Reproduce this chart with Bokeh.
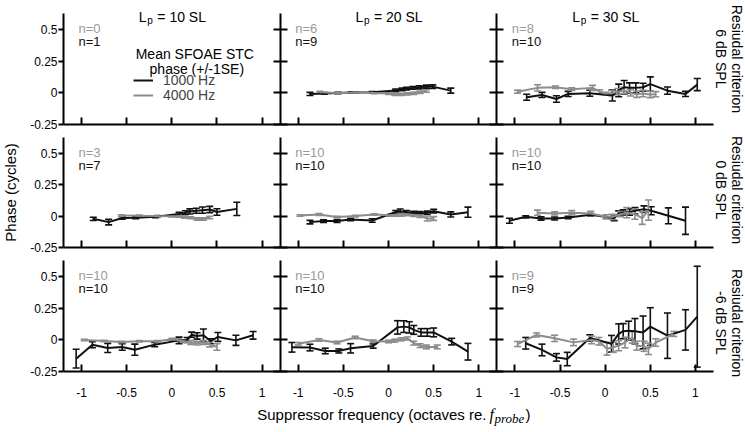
import numpy as np
from bokeh.plotting import figure
from bokeh.models import (Range1d, LinearAxis, FixedTicker, Whisker, TeeHead,
                          ColumnDataSource, Label, Legend, LegendItem)
from bokeh.embed import file_html
from bokeh.resources import INLINE

# ---------------- labels ----------------
lp_levels = [10, 20, 30]                       # columns: L_p (dB SL)
residual_criteria = ["6 dB SPL", "0 dB SPL", "-6 dB SPL"]   # rows
n_1000 = [[1, 9, 10], [7, 10, 10], [10, 10, 9]]
n_4000 = [[0, 6, 8], [3, 10, 10], [10, 10, 9]]
x_ticks = [-1, -0.5, 0, 0.5, 1]
x_tick_labels = ["-1", "-0.5", "0", "0.5", "1"]
y_ticks = [-0.25, 0, 0.25, 0.5]
y_tick_labels = ["-0.25", "0", "0.25", "0.5"]

# ---------------- data (suppressor freq, octaves re. f_probe ; phase, cycles) ----------------
# Residual criterion 6 dB SPL
x_1000_res6_lp10 = []
y_1000_res6_lp10 = []
se_1000_res6_lp10 = []
x_4000_res6_lp10 = []
y_4000_res6_lp10 = []
se_4000_res6_lp10 = []

x_1000_res6_lp20 = [-0.87, -0.71, -0.56, -0.41, -0.18, 0.08, 0.15, 0.2, 0.27, 0.34, 0.42, 0.49, 0.69]
y_1000_res6_lp20 = [-0.008, -0.004, 0.0, 0.003, 0.005, 0.02, 0.028, 0.034, 0.04, 0.044, 0.05, 0.05, 0.018]
se_1000_res6_lp20 = [0.012, 0.006, 0.006, 0.006, 0.006, 0.01, 0.01, 0.01, 0.01, 0.012, 0.012, 0.014, 0.02]
x_4000_res6_lp20 = [-0.76, -0.56, -0.36, -0.16, 0.0, 0.07, 0.14, 0.21, 0.28, 0.35, 0.42]
y_4000_res6_lp20 = [0.005, 0.0, 0.003, 0.0, -0.005, -0.013, -0.012, -0.008, -0.003, 0.005, 0.015]
se_4000_res6_lp20 = [0.008, 0.006, 0.006, 0.006, 0.008, 0.008, 0.008, 0.008, 0.01, 0.01, 0.01]

x_1000_res6_lp30 = [-0.87, -0.7, -0.54, -0.41, -0.17, 0.08, 0.15, 0.21, 0.27, 0.34, 0.42, 0.5, 0.69, 0.89, 1.02]
y_1000_res6_lp30 = [-0.034, -0.016, -0.048, -0.008, -0.003, -0.02, 0.02, 0.045, 0.04, 0.04, 0.045, 0.07, 0.018, -0.008, 0.066]
se_1000_res6_lp30 = [0.024, 0.02, 0.026, 0.02, 0.024, 0.044, 0.05, 0.053, 0.04, 0.04, 0.032, 0.057, 0.029, 0.021, 0.048]
x_4000_res6_lp30 = [-0.97, -0.75, -0.55, -0.37, -0.14, -0.06, 0.0, 0.07, 0.14, 0.21, 0.28, 0.35, 0.42, 0.5, 0.56]
y_4000_res6_lp30 = [0.01, 0.04, 0.045, 0.03, 0.04, 0.01, -0.005, 0.0, 0.01, 0.02, 0.0, -0.01, -0.005, -0.012, -0.01]
se_4000_res6_lp30 = [0.012, 0.025, 0.01, 0.01, 0.02, 0.015, 0.01, 0.02, 0.025, 0.025, 0.025, 0.025, 0.025, 0.025, 0.02]

# Residual criterion 0 dB SPL
x_1000_res0_lp10 = [-0.87, -0.7, -0.55, -0.4, -0.18, 0.08, 0.15, 0.2, 0.27, 0.34, 0.42, 0.5, 0.72]
y_1000_res0_lp10 = [-0.019, -0.045, -0.012, -0.01, -0.002, 0.02, 0.03, 0.04, 0.045, 0.05, 0.055, 0.035, 0.06]
se_1000_res0_lp10 = [0.013, 0.022, 0.01, 0.008, 0.008, 0.012, 0.015, 0.02, 0.02, 0.025, 0.025, 0.026, 0.053]
x_4000_res0_lp10 = [-0.56, -0.36, -0.16, 0.0, 0.07, 0.14, 0.21, 0.28, 0.35, 0.42]
y_4000_res0_lp10 = [0.008, 0.005, 0.003, 0.002, 0.0, -0.005, -0.01, -0.02, -0.02, -0.008]
se_4000_res0_lp10 = [0.006, 0.006, 0.006, 0.006, 0.006, 0.008, 0.008, 0.01, 0.01, 0.01]

x_1000_res0_lp20 = [-0.87, -0.72, -0.57, -0.42, -0.18, 0.08, 0.13, 0.2, 0.28, 0.35, 0.43, 0.5, 0.69, 0.88]
y_1000_res0_lp20 = [-0.045, -0.037, -0.037, -0.024, -0.032, 0.035, 0.042, 0.034, 0.029, 0.026, 0.03, 0.042, 0.016, 0.034]
se_1000_res0_lp20 = [0.014, 0.01, 0.01, 0.01, 0.014, 0.012, 0.017, 0.012, 0.012, 0.012, 0.012, 0.014, 0.02, 0.04]
x_4000_res0_lp20 = [-0.98, -0.77, -0.57, -0.37, -0.16, 0.02, 0.07, 0.14, 0.21, 0.28, 0.35, 0.43, 0.5]
y_4000_res0_lp20 = [0.008, 0.016, -0.005, 0.003, 0.016, 0.01, 0.01, 0.012, 0.015, 0.01, 0.005, -0.016, -0.016]
se_4000_res0_lp20 = [0.006, 0.008, 0.006, 0.006, 0.006, 0.008, 0.008, 0.01, 0.01, 0.01, 0.012, 0.02, 0.015]

x_1000_res0_lp30 = [-1.06, -0.88, -0.71, -0.56, -0.41, -0.16, 0.1, 0.15, 0.2, 0.27, 0.33, 0.43, 0.51, 0.7, 0.89]
y_1000_res0_lp30 = [-0.034, -0.003, -0.016, -0.016, -0.008, 0.013, -0.013, 0.024, 0.032, 0.035, 0.045, 0.058, 0.045, 0.005, -0.034]
se_1000_res0_lp30 = [0.02, 0.008, 0.013, 0.012, 0.01, 0.01, 0.02, 0.02, 0.02, 0.025, 0.026, 0.026, 0.032, 0.063, 0.108]
x_4000_res0_lp30 = [-0.75, -0.56, -0.37, -0.16, 0.01, 0.08, 0.17, 0.24, 0.33, 0.41, 0.48]
y_4000_res0_lp30 = [0.03, 0.024, 0.03, 0.024, -0.003, -0.003, 0.018, 0.03, 0.018, -0.013, 0.05]
se_4000_res0_lp30 = [0.02, 0.012, 0.016, 0.016, 0.016, 0.02, 0.02, 0.04, 0.04, 0.05, 0.08]

# Residual criterion -6 dB SPL
x_1000_resm6_lp10 = [-1.06, -0.88, -0.71, -0.55, -0.41, -0.19, 0.08, 0.17, 0.22, 0.28, 0.35, 0.43, 0.51, 0.71, 0.9]
y_1000_resm6_lp10 = [-0.148, -0.037, -0.063, -0.056, -0.077, -0.037, -0.003, 0.0, 0.042, 0.032, 0.037, -0.01, 0.024, -0.003, 0.037]
se_1000_resm6_lp10 = [0.074, 0.024, 0.036, 0.026, 0.044, 0.017, 0.026, 0.02, 0.02, 0.025, 0.05, 0.02, 0.035, 0.04, 0.03]
x_4000_resm6_lp10 = [-0.97, -0.75, -0.56, -0.36, -0.16, 0.0, 0.07, 0.14, 0.21, 0.28, 0.35, 0.42, 0.5]
y_4000_resm6_lp10 = [0.0, -0.008, -0.016, -0.01, -0.01, 0.005, 0.0, -0.01, -0.02, -0.025, -0.02, -0.035, -0.056]
se_4000_resm6_lp10 = [0.006, 0.006, 0.006, 0.006, 0.006, 0.008, 0.01, 0.01, 0.015, 0.015, 0.015, 0.02, 0.026]

x_1000_resm6_lp20 = [-1.07, -0.87, -0.7, -0.55, -0.42, -0.17, 0.1, 0.17, 0.23, 0.28, 0.36, 0.43, 0.5, 0.7, 0.88]
y_1000_resm6_lp20 = [-0.058, -0.06, -0.087, -0.087, -0.066, -0.048, 0.1, 0.106, 0.1, 0.08, 0.06, 0.06, 0.06, -0.013, -0.093]
se_1000_resm6_lp20 = [0.038, 0.026, 0.022, 0.016, 0.037, 0.017, 0.053, 0.046, 0.045, 0.035, 0.03, 0.03, 0.035, 0.026, 0.066]
x_4000_resm6_lp20 = [-1.0, -0.77, -0.57, -0.37, -0.17, 0.0, 0.07, 0.14, 0.21, 0.28, 0.35, 0.42, 0.54]
y_4000_resm6_lp20 = [-0.03, 0.0, -0.02, 0.02, -0.01, -0.012, -0.005, 0.005, 0.012, -0.025, -0.045, -0.055, -0.055]
se_4000_resm6_lp20 = [0.01, 0.01, 0.01, 0.01, 0.01, 0.01, 0.012, 0.012, 0.012, 0.015, 0.015, 0.015, 0.015]

x_1000_resm6_lp30 = [-0.88, -0.7, -0.54, -0.42, -0.17, 0.07, 0.15, 0.2, 0.26, 0.33, 0.42, 0.5, 0.69, 0.89, 1.02]
y_1000_resm6_lp30 = [-0.026, -0.079, -0.138, -0.151, 0.016, -0.03, 0.048, 0.07, 0.074, 0.07, 0.06, 0.106, 0.034, 0.08, 0.185]
se_1000_resm6_lp30 = [0.046, 0.046, 0.03, 0.053, 0.025, 0.066, 0.08, 0.06, 0.075, 0.1, 0.13, 0.15, 0.18, 0.16, 0.4]
x_4000_resm6_lp30 = [-0.97, -0.76, -0.56, -0.35, -0.15, -0.07, 0.02, 0.09, 0.15, 0.22, 0.3, 0.35, 0.43, 0.48, 0.56, 0.76]
y_4000_resm6_lp30 = [-0.032, 0.04, 0.013, -0.019, 0.0, -0.01, -0.07, -0.058, -0.045, -0.02, 0.02, -0.045, -0.05, -0.07, -0.02, 0.048]
se_4000_resm6_lp30 = [0.02, 0.016, 0.025, 0.026, 0.03, 0.03, 0.05, 0.04, 0.04, 0.042, 0.045, 0.035, 0.04, 0.045, 0.03, 0.02]

panel_series = [
    [((x_1000_res6_lp10, y_1000_res6_lp10, se_1000_res6_lp10), (x_4000_res6_lp10, y_4000_res6_lp10, se_4000_res6_lp10)),
     ((x_1000_res6_lp20, y_1000_res6_lp20, se_1000_res6_lp20), (x_4000_res6_lp20, y_4000_res6_lp20, se_4000_res6_lp20)),
     ((x_1000_res6_lp30, y_1000_res6_lp30, se_1000_res6_lp30), (x_4000_res6_lp30, y_4000_res6_lp30, se_4000_res6_lp30))],
    [((x_1000_res0_lp10, y_1000_res0_lp10, se_1000_res0_lp10), (x_4000_res0_lp10, y_4000_res0_lp10, se_4000_res0_lp10)),
     ((x_1000_res0_lp20, y_1000_res0_lp20, se_1000_res0_lp20), (x_4000_res0_lp20, y_4000_res0_lp20, se_4000_res0_lp20)),
     ((x_1000_res0_lp30, y_1000_res0_lp30, se_1000_res0_lp30), (x_4000_res0_lp30, y_4000_res0_lp30, se_4000_res0_lp30))],
    [((x_1000_resm6_lp10, y_1000_resm6_lp10, se_1000_resm6_lp10), (x_4000_resm6_lp10, y_4000_resm6_lp10, se_4000_resm6_lp10)),
     ((x_1000_resm6_lp20, y_1000_resm6_lp20, se_1000_resm6_lp20), (x_4000_resm6_lp20, y_4000_resm6_lp20, se_4000_resm6_lp20)),
     ((x_1000_resm6_lp30, y_1000_resm6_lp30, se_1000_resm6_lp30), (x_4000_resm6_lp30, y_4000_resm6_lp30, se_4000_resm6_lp30))],
]

# ---------------- styling / geometry ----------------
BLACK = "#111111"
GRAY = "#8c8c8c"
NGRAY = "#9a9a9a"
FONT = "Liberation Sans"
SERIF = "Liberation Serif"

XLO, XHI = -1.2, 1.2          # each panel's x extent
YLO, YHI = -0.25, 0.63        # each panel's y extent
ROW_PITCH = 0.98              # vertical pitch of rows, in data units
PW = XHI - XLO

# canvas geometry (px): the plotting frame covers the whole canvas
CANVAS_W, CANVAS_H = 745, 430
PAD_L, PAD_T = 63, 13
PANEL_W = 650 / 3
ROWS_H = 358
PAD_B = CANVAS_H - PAD_T - ROWS_H
UX = PW / PANEL_W
UY = (YHI - YLO + 2 * ROW_PITCH) / ROWS_H


def col_range(c):
    start = XLO - (PAD_L + c * PANEL_W) * UX
    return Range1d(start, start + CANVAS_W * UX)


def row_range(r):
    start = YLO - (2 - r) * ROW_PITCH - PAD_B * UY
    return Range1d(start, start + CANVAS_H * UY)


p = figure(width=CANVAS_W, height=CANVAS_H,
           x_range=col_range(0), y_range=row_range(0),
           x_axis_location=None, y_axis_location=None,
           min_border_left=0, min_border_right=0, min_border_top=0, min_border_bottom=0,
           outline_line_color=None, toolbar_location=None, output_backend="svg")
p.extra_x_ranges = {f"c{c}": col_range(c) for c in range(3)}
p.extra_y_ranges = {f"r{r}": row_range(r) for r in range(3)}
p.background_fill_color = "white"
p.border_fill_color = "white"
for g in p.grid:
    g.visible = False


def style_axis(ax):
    ax.axis_line_width = 2
    ax.axis_line_color = "black"
    ax.major_tick_line_width = 2
    ax.major_tick_line_color = "black"
    ax.minor_tick_line_color = None
    ax.major_label_text_font = FONT
    ax.major_label_text_font_size = "12px"
    ax.major_label_text_color = "black"


# axes for every panel
for r in range(3):
    for c in range(3):
        xr, yr = f"c{c}", f"r{r}"
        yax = LinearAxis(x_range_name=xr, y_range_name=yr, fixed_location=XLO,
                         bounds=(YLO, YHI), ticker=FixedTicker(ticks=y_ticks, minor_ticks=[]))
        style_axis(yax)
        if c == 0:
            yax.major_tick_out = 5
            yax.major_tick_in = 0
            yax.major_label_standoff = 1
            yax.major_label_overrides = dict(zip(y_ticks, y_tick_labels))
        else:
            yax.major_tick_out = 7
            yax.major_tick_in = 7
            yax.major_label_overrides = {t: "" for t in y_ticks}
        p.add_layout(yax, "left")

        xax = LinearAxis(x_range_name=xr, y_range_name=yr, fixed_location=YLO,
                         bounds=(XLO, XHI), ticker=FixedTicker(ticks=x_ticks, minor_ticks=[]))
        style_axis(xax)
        xax.major_tick_in = 7
        xax.major_tick_out = 0
        if r == 2:
            xax.major_label_standoff = 16
            xax.major_label_overrides = dict(zip(x_ticks, x_tick_labels))
        else:
            xax.major_label_overrides = {t: "" for t in x_ticks}
        p.add_layout(xax, "below")

# data
legend_black = None
legend_gray = None
for r in range(3):
    for c in range(3):
        xr, yr = f"c{c}", f"r{r}"
        for (xs, ys, ses), color in zip(panel_series[r][c], [BLACK, GRAY]):
            if len(xs) == 0:
                continue
            xs = np.asarray(xs, float)
            ys = np.asarray(ys, float)
            ses = np.asarray(ses, float)
            src = ColumnDataSource(dict(x=xs, y=ys, upper=ys + ses, lower=ys - ses))
            wh = Whisker(source=src, base="x", upper="upper", lower="lower",
                         line_color=color, line_width=1.6,
                         upper_head=TeeHead(size=7, line_color=color, line_width=1.6),
                         lower_head=TeeHead(size=7, line_color=color, line_width=1.6),
                         x_range_name=xr, y_range_name=yr)
            p.add_layout(wh)
        for (xs, ys, ses), color in zip(panel_series[r][c], [BLACK, GRAY]):
            if len(xs) == 0:
                continue
            src = ColumnDataSource(dict(x=list(xs), y=list(ys)))
            ln = p.line("x", "y", source=src, line_color=color, line_width=2,
                        x_range_name=xr, y_range_name=yr)
            if color == BLACK and legend_black is None:
                legend_black = ln
            if color == GRAY and legend_gray is None:
                legend_gray = ln


def add_text(text, x, y, xr, yr, dx=0, dy=0, size="14px", color="black",
             align="left", baseline="alphabetic", font=FONT, style="normal", angle=0.0):
    p.add_layout(Label(x=x, y=y, x_range_name=xr, y_range_name=yr, x_offset=dx, y_offset=dy,
                       text=text, text_font_size=size, text_color=color, text_align=align,
                       text_baseline=baseline, text_font=font, text_font_style=style,
                       angle=angle))


# y axis title
add_text("Phase (cycles)", XLO, (YLO + YHI) / 2, "c0", "r1", dx=-53, size="15px",
         align="center", baseline="middle", angle=np.pi / 2)

# column titles  L_p = xx SL
for c, lp in enumerate(lp_levels):
    xr = f"c{c}"
    add_text("L", 0, YHI, xr, "r0", dx=-33, dy=-3, size="14px")
    add_text("p", 0, YHI, xr, "r0", dx=-24.5, dy=-6.5, size="10px")
    add_text(f"= {lp} SL", 0, YHI, xr, "r0", dx=-14.5, dy=-3, size="14px")

# n labels
for r in range(3):
    for c in range(3):
        xr, yr = f"c{c}", f"r{r}"
        add_text(f"n={n_4000[r][c]}", XLO, YHI, xr, yr, dx=15, dy=-15, size="13px", color=NGRAY)
        add_text(f"n={n_1000[r][c]}", XLO, YHI, xr, yr, dx=15, dy=-28, size="13px", color=BLACK)

# row labels (right side, rotated)
row_label_y = [0.27, 0.21, 0.135]
for r, crit in enumerate(residual_criteria):
    yr = f"r{r}"
    add_text("Resiudal criterion", XHI, row_label_y[r], "c2", yr, dx=23, size="14px",
             align="center", baseline="middle", angle=-np.pi / 2)
    add_text(crit, XHI, row_label_y[r], "c2", yr, dx=7, size="14px",
             align="center", baseline="middle", angle=-np.pi / 2)

# x axis label with italic f_probe
add_text("Suppressor frequency (octaves re.", 0, YLO, "c1", "r2", dx=98, dy=-43, size="15px", align="right")
add_text("f", 0, YLO, "c1", "r2", dx=101, dy=-43, size="16px", font=SERIF, style="italic")
add_text("probe", 0, YLO, "c1", "r2", dx=106, dy=-47, size="13px", font=SERIF, style="italic")
add_text(")", 0, YLO, "c1", "r2", dx=137, dy=-43, size="15px")

# legend (top-left panel)
add_text("Mean SFOAE STC", 0, YHI, "c0", "r0", dx=23, dy=-40, size="14px", align="center")
add_text("phase (+/-1SE)", 0, YHI, "c0", "r0", dx=25, dy=-55, size="14px", align="center")
LEG_H = 18
top_from_bottom = CANVAS_H - PAD_T
for ren, lab, below_top in [(legend_black, "1000 Hz", 67), (legend_gray, "4000 Hz", 82)]:
    lg = Legend(items=[LegendItem(label=lab, renderers=[ren])],
                location=(PAD_L + 70, top_from_bottom - below_top - LEG_H / 2),
                orientation="vertical", padding=0, margin=0, spacing=0,
                glyph_width=20, glyph_height=LEG_H, label_height=LEG_H, label_standoff=10,
                label_text_font=FONT, label_text_font_size="14px",
                border_line_color=None, background_fill_alpha=0)
    p.add_layout(lg)

open("out.html", "w").write(file_html(p, INLINE))
